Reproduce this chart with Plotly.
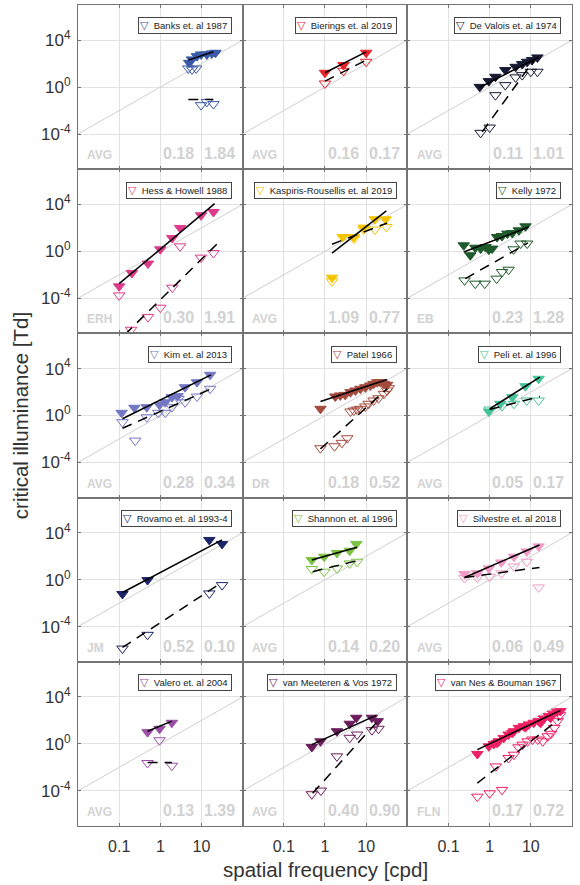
import numpy as np
import plotly.graph_objects as go
from plotly.subplots import make_subplots

# All values below are log10(spatial frequency, cpd) and log10(critical illuminance, Td),
# read off the reference chart.

banks_fill_lf = [0.70, 0.77, 0.89, 0.99, 1.13, 1.25, 1.34]
banks_fill_ly = [2.07, 2.36, 2.64, 2.79, 2.79, 2.87, 2.93]
banks_open_lf = [0.68, 0.77, 0.87, 0.99, 1.13, 1.29]
banks_open_ly = [1.59, 1.51, 1.59, -1.54, -1.26, -1.45]
banks_fit_lf = [0.68, 1.29]
banks_fit_ly = [2.30, 3.01]
banks_dfit_lf = [0.68, 1.29]
banks_dfit_ly = [-1.05, -1.05]

bierings_fill_lf = [0.0, 0.45, 1.0]
bierings_fill_ly = [1.22, 1.88, 2.93]
bierings_open_lf = [0.0, 0.45, 1.0]
bierings_open_ly = [0.31, 1.39, 2.16]
bierings_fit_lf = [0.0, 1.0]
bierings_fit_ly = [1.22, 3.01]
bierings_dfit_lf = [0.0, 1.0]
bierings_dfit_ly = [0.51, 2.30]

devalois_fill_lf = [-0.24, -0.02, 0.14, 0.38, 0.63, 0.79, 0.91, 1.03, 1.16]
devalois_fill_ly = [0.02, 0.51, 0.88, 1.45, 1.73, 1.96, 2.16, 2.30, 2.53]
devalois_open_lf = [-0.22, 0.0, 0.14, 0.38, 0.63, 0.79, 1.0, 1.16]
devalois_open_ly = [-3.9, -3.45, -0.69, 0.17, 0.83, 1.02, 1.31, 1.31]
devalois_fit_lf = [-0.24, 1.20]
devalois_fit_ly = [-0.03, 2.58]
devalois_dfit_lf = [-0.18, 1.11]
devalois_dfit_ly = [-3.82, 2.45]

hess_fill_lf = [-1.0, -0.69, -0.30, 0.0, 0.29, 0.48, 0.99, 1.29]
hess_fill_ly = [-2.99, -1.86, -1.05, 0.17, 1.13, 1.99, 3.07, 3.35]
hess_open_lf = [-1.0, -0.71, -0.30, 0.0, 0.29, 0.48, 0.99, 1.29]
hess_open_ly = [-3.76, -6.69, -5.61, -4.81, -3.1, 0.42, -0.54, -0.15]
hess_fit_lf = [-1.0, 1.32]
hess_fit_ly = [-2.76, 4.07]
hess_dfit_lf = [-0.86, 1.37]
hess_dfit_ly = [-7.1, 0.6]

kaspiris_fill_lf = [0.17, 0.43, 0.70, 0.94, 1.21, 1.47]
kaspiris_fill_ly = [-2.25, 1.22, 1.22, 2.02, 2.73, 2.73]
kaspiris_open_lf = [0.17, 0.70, 0.94, 1.21, 1.49]
kaspiris_open_ly = [-2.56, 1.08, 1.85, 1.85, 2.07]
kaspiris_fit_lf = [0.17, 1.49]
kaspiris_fit_ly = [-0.15, 3.44]
kaspiris_dfit_lf = [0.17, 1.51]
kaspiris_dfit_ly = [0.6, 2.41]

kelly_fill_lf = [-0.63, -0.47, -0.35, -0.22, -0.10, -0.02, 0.06, 0.18, 0.30, 0.43, 0.55, 0.71, 0.87]
kelly_fill_ly = [0.51, -0.34, 0.31, 0.23, 0.36, 0.14, 0.23, 1.22, 1.30, 1.51, 1.56, 1.79, 2.13]
kelly_open_lf = [-0.61, -0.35, -0.12, 0.17, 0.30, 0.46, 0.58, 0.75, 0.91]
kelly_open_ly = [-2.48, -2.76, -2.76, -2.33, -1.77, -1.57, 0.17, 0.66, 0.66]
kelly_fit_lf = [-0.63, 0.95]
kelly_fit_ly = [-0.06, 2.07]
kelly_dfit_lf = [-0.59, 0.93]
kelly_dfit_ly = [-2.33, 0.71]

kim_fill_lf = [-0.94, -0.63, -0.33, -0.02, 0.12, 0.28, 0.42, 0.60, 0.89, 1.21]
kim_fill_ly = [0.23, 0.66, 0.71, 0.91, 1.13, 1.56, 1.65, 2.41, 2.84, 3.47]
kim_open_lf = [-0.92, -0.61, -0.33, -0.05, 0.12, 0.28, 0.44, 0.60, 0.89, 1.21]
kim_open_ly = [-0.57, -2.14, -0.15, 0.23, 0.23, 0.71, 1.42, 1.13, 1.62, 2.28]
kim_fit_lf = [-0.92, 1.23]
kim_fit_ly = [-0.28, 3.47]
kim_dfit_lf = [-0.92, 1.20]
kim_dfit_ly = [-1.09, 2.22]

patel_fill_lf = [-0.11, 0.25, 0.37, 0.49, 0.62, 0.74, 0.86, 0.98, 1.10, 1.18, 1.27, 1.35, 1.43, 1.51]
patel_fill_ly = [0.57, 1.62, 1.71, 1.76, 1.99, 2.13, 2.28, 2.41, 2.56, 2.70, 2.84, 2.84, 2.70, 2.62]
patel_open_lf = [-0.11, 0.23, 0.41, 0.54, 0.62, 0.70, 0.78, 0.86, 0.98, 1.06, 1.18, 1.30, 1.43, 1.51, 1.55]
patel_open_ly = [-2.79, -2.62, -2.33, -1.94, 0.34, 0.42, 0.51, 0.57, 0.77, 1.0, 1.28, 1.47, 1.85, 2.13, 2.33]
patel_fit_lf = [-0.11, 1.51]
patel_fit_ly = [1.19, 3.07]
patel_dfit_lf = [-0.11, 1.51]
patel_dfit_ly = [-2.85, 2.28]

peli_fill_lf = [-0.02, 0.26, 0.55, 0.87, 1.19]
peli_fill_ly = [0.34, 1.0, 1.56, 2.5, 3.13]
peli_open_lf = [0.0, 0.30, 0.59, 0.90, 1.19]
peli_open_ly = [0.51, 0.79, 1.0, 1.28, 1.28]
peli_fit_lf = [0.0, 1.22]
peli_fit_ly = [0.57, 3.27]
peli_dfit_lf = [0.0, 1.22]
peli_dfit_ly = [0.51, 1.62]

rovamo_fill_lf = [-0.92, -0.31, 1.19, 1.50]
rovamo_fill_ly = [-1.22, -0.03, 3.39, 3.05]
rovamo_open_lf = [-0.92, -0.31, 1.19, 1.50]
rovamo_open_ly = [-5.87, -4.7, -1.17, -0.46]
rovamo_fit_lf = [-0.92, 1.50]
rovamo_fit_ly = [-1.09, 3.39]
rovamo_dfit_lf = [-0.92, 1.50]
rovamo_dfit_ly = [-5.78, -0.23]

shannon_fill_lf = [-0.32, -0.02, 0.29, 0.60, 0.76]
shannon_fill_ly = [1.68, 1.96, 2.28, 2.47, 3.05]
shannon_open_lf = [-0.32, -0.02, 0.29, 0.60, 0.78]
shannon_open_ly = [0.91, 0.68, 0.96, 1.39, 1.53]
shannon_fit_lf = [-0.32, 0.78]
shannon_fit_ly = [1.68, 2.76]
shannon_dfit_lf = [-0.30, 0.78]
shannon_dfit_ly = [0.68, 1.62]

silvestre_fill_lf = [-0.61, -0.30, -0.02, 0.28, 0.59, 0.90, 1.19]
silvestre_fill_ly = [0.48, 0.54, 0.96, 1.47, 1.96, 2.41, 2.84]
silvestre_open_lf = [-0.61, -0.30, 0.0, 0.29, 0.59, 0.90, 1.19]
silvestre_open_ly = [0.14, 0.19, 0.25, 0.54, 1.13, 1.53, -0.66]
silvestre_fit_lf = [-0.61, 1.21]
silvestre_fit_ly = [0.19, 2.96]
silvestre_dfit_lf = [-0.61, 1.21]
silvestre_dfit_ly = [0.19, 1.05]

valero_fill_lf = [-0.31, -0.02, 0.28]
valero_fill_ly = [1.0, 1.29, 1.80]
valero_open_lf = [-0.31, -0.02, 0.28]
valero_open_ly = [-1.63, 0.31, -1.86]
valero_fit_lf = [-0.31, 0.28]
valero_fit_ly = [1.08, 1.94]
valero_dfit_lf = [-0.31, 0.28]
valero_dfit_ly = [-1.58, -1.58]

meeteren_fill_lf = [-0.32, -0.11, 0.29, 0.60, 0.76, 1.14, 1.28]
meeteren_fill_ly = [-0.26, 0.22, 1.08, 1.72, 2.23, 2.23, 1.94]
meeteren_open_lf = [-0.32, -0.10, 0.29, 0.60, 0.78, 1.14, 1.30]
meeteren_open_ly = [-4.29, -3.98, -1.06, 0.52, 0.80, 1.17, 1.29]
meeteren_fit_lf = [-0.32, 1.24]
meeteren_fit_ly = [-0.06, 2.43]
meeteren_dfit_lf = [-0.30, 1.28]
meeteren_dfit_ly = [-4.21, 1.94]

vannes_fill_lf = [-0.30, -0.02, 0.10, 0.18, 0.22, 0.34, 0.46, 0.55, 0.59, 0.71, 0.83, 0.87,
                  0.95, 1.07, 1.19, 1.24, 1.32, 1.44, 1.48, 1.54, 1.64, 1.72]
vannes_fill_ly = [-0.86, -0.21, 0.0, 0.09, 0.22, 0.51, 0.80, 0.94, 1.08, 1.37, 1.51, 1.43,
                  1.66, 1.80, 1.94, 1.80, 2.17, 2.37, 2.23, 2.58, 2.75, 2.80]
vannes_open_lf = [-0.30, 0.0, 0.30, 0.15, 0.46, 0.59, 0.70, 0.80, 0.92, 1.04, 1.17, 1.29,
                  1.41, 1.49, 1.57, 1.65, 1.71]
vannes_open_ly = [-4.50, -4.21, -3.92, -1.92, -1.20, -0.92, -0.29, -0.06, 0.22, 0.37, 0.37, 0.22,
                  0.65, 0.86, 1.37, 1.94, 2.45]
vannes_fit_lf = [-0.30, 1.72]
vannes_fit_ly = [-0.49, 2.86]
vannes_dfit_lf = [-0.30, 1.68]
vannes_dfit_ly = [-3.35, 2.09]

study_names = ["Banks et. al 1987", "Bierings et. al 2019", "De Valois et. al 1974",
               "Hess &amp; Howell 1988", "Kaspiris-Rousellis et. al 2019", "Kelly 1972",
               "Kim et. al 2013", "Patel 1966", "Peli et. al 1996",
               "Rovamo et. al 1993-4", "Shannon et. al 1996", "Silvestre et. al 2018",
               "Valero et. al 2004", "van Meeteren &amp; Vos 1972", "van Nes &amp; Bouman 1967"]
study_colors = ["#3a5aa8", "#e8232a", "#161a33",
                "#dc3b8a", "#f5c400", "#1f5a2c",
                "#7478c4", "#a34a3c", "#45c49b",
                "#1c2568", "#7cc243", "#f09ac6",
                "#9b4ea6", "#6b1d5c", "#ef1f63"]
observer_labels = ["AVG", "AVG", "AVG", "ERH", "AVG", "EB", "AVG", "DR", "AVG",
                   "JM", "AVG", "AVG", "AVG", "AVG", "FLN"]
stat_a = ["0.18", "0.16", "0.11", "0.30", "1.09", "0.23", "0.28", "0.18", "0.05",
          "0.52", "0.14", "0.06", "0.13", "0.40", "0.17"]
stat_b = ["1.84", "0.17", "1.01", "1.91", "0.77", "1.28", "0.34", "0.52", "0.17",
          "0.10", "0.20", "0.49", "1.39", "0.90", "0.72"]

diag_f = [0.01, 100]
diag_td = [1e-4, 1e4]

x_tickvals = [0.1, 1, 10]
x_ticktext = ["0.1", "1", "10"]
y_tickvals = [1e-4, 1, 1e4]
y_ticktext = ["10<sup>-4</sup>", "10<sup>0</sup>", "10<sup>4</sup>"]

series = [
    (banks_fill_lf, banks_fill_ly, banks_open_lf, banks_open_ly, banks_fit_lf, banks_fit_ly, banks_dfit_lf, banks_dfit_ly),
    (bierings_fill_lf, bierings_fill_ly, bierings_open_lf, bierings_open_ly, bierings_fit_lf, bierings_fit_ly, bierings_dfit_lf, bierings_dfit_ly),
    (devalois_fill_lf, devalois_fill_ly, devalois_open_lf, devalois_open_ly, devalois_fit_lf, devalois_fit_ly, devalois_dfit_lf, devalois_dfit_ly),
    (hess_fill_lf, hess_fill_ly, hess_open_lf, hess_open_ly, hess_fit_lf, hess_fit_ly, hess_dfit_lf, hess_dfit_ly),
    (kaspiris_fill_lf, kaspiris_fill_ly, kaspiris_open_lf, kaspiris_open_ly, kaspiris_fit_lf, kaspiris_fit_ly, kaspiris_dfit_lf, kaspiris_dfit_ly),
    (kelly_fill_lf, kelly_fill_ly, kelly_open_lf, kelly_open_ly, kelly_fit_lf, kelly_fit_ly, kelly_dfit_lf, kelly_dfit_ly),
    (kim_fill_lf, kim_fill_ly, kim_open_lf, kim_open_ly, kim_fit_lf, kim_fit_ly, kim_dfit_lf, kim_dfit_ly),
    (patel_fill_lf, patel_fill_ly, patel_open_lf, patel_open_ly, patel_fit_lf, patel_fit_ly, patel_dfit_lf, patel_dfit_ly),
    (peli_fill_lf, peli_fill_ly, peli_open_lf, peli_open_ly, peli_fit_lf, peli_fit_ly, peli_dfit_lf, peli_dfit_ly),
    (rovamo_fill_lf, rovamo_fill_ly, rovamo_open_lf, rovamo_open_ly, rovamo_fit_lf, rovamo_fit_ly, rovamo_dfit_lf, rovamo_dfit_ly),
    (shannon_fill_lf, shannon_fill_ly, shannon_open_lf, shannon_open_ly, shannon_fit_lf, shannon_fit_ly, shannon_dfit_lf, shannon_dfit_ly),
    (silvestre_fill_lf, silvestre_fill_ly, silvestre_open_lf, silvestre_open_ly, silvestre_fit_lf, silvestre_fit_ly, silvestre_dfit_lf, silvestre_dfit_ly),
    (valero_fill_lf, valero_fill_ly, valero_open_lf, valero_open_ly, valero_fit_lf, valero_fit_ly, valero_dfit_lf, valero_dfit_ly),
    (meeteren_fill_lf, meeteren_fill_ly, meeteren_open_lf, meeteren_open_ly, meeteren_fit_lf, meeteren_fit_ly, meeteren_dfit_lf, meeteren_dfit_ly),
    (vannes_fill_lf, vannes_fill_ly, vannes_open_lf, vannes_open_ly, vannes_fit_lf, vannes_fit_ly, vannes_dfit_lf, vannes_dfit_ly),
]

FONT = "Liberation Sans, Arial, Helvetica, sans-serif"
TEXT = "#333333"
AXIS = "#747474"
GRID = "#e2e2e2"
STAT = "#d2d2d2"

def p10(a):
    return np.power(10.0, np.asarray(a, dtype=float))

fig = make_subplots(rows=5, cols=3, horizontal_spacing=0, vertical_spacing=0)

annotations = []
for k, (ffl, ffy, ofl, ofy, sfl, sfy, dfl, dfy) in enumerate(series):
    r, c = k // 3 + 1, k % 3 + 1
    col = study_colors[k]
    fig.add_trace(go.Scatter(x=diag_f, y=diag_td, mode="lines",
                             line=dict(color="#cfcfcf", width=1), hoverinfo="skip"), row=r, col=c)
    fig.add_trace(go.Scatter(x=p10(ffl), y=p10(ffy), mode="markers",
                             marker=dict(symbol="triangle-down", size=10, color=col,
                                         line=dict(color=col, width=1))), row=r, col=c)
    fig.add_trace(go.Scatter(x=p10(ofl), y=p10(ofy), mode="markers",
                             marker=dict(symbol="triangle-down-open", size=10, color=col,
                                         line=dict(color=col, width=1))), row=r, col=c)
    fig.add_trace(go.Scatter(x=p10(sfl), y=p10(sfy), mode="lines",
                             line=dict(color="black", width=1.5)), row=r, col=c)
    fig.add_trace(go.Scatter(x=p10(dfl), y=p10(dfy), mode="lines",
                             line=dict(color="black", width=1.5, dash="10px,7px")), row=r, col=c)

    xref = "x domain" if k == 0 else f"x{k+1} domain"
    yref = "y domain" if k == 0 else f"y{k+1} domain"
    annotations.append(dict(
        xref=xref, yref=yref, x=0.935, y=0.925, xanchor="right", yanchor="top",
        text=f"<span style='color:{col};font-size:11px;font-family:DejaVu Sans'>\u25BD</span>\u00a0\u00a0{study_names[k]}\u00a0",
        showarrow=False, font=dict(family=FONT, size=9.5, color="#222222"),
        bgcolor="white", bordercolor="#444444", borderwidth=1, borderpad=1))
    annotations.append(dict(
        xref=xref, yref=yref, x=0.045, y=0.085, xanchor="left", yanchor="middle",
        text=f"<b>{observer_labels[k]}</b>", showarrow=False,
        font=dict(family=FONT, size=12, color=STAT)))
    annotations.append(dict(
        xref=xref, yref=yref, x=0.717, y=0.095, xanchor="right", yanchor="middle",
        text=f"<b>{stat_a[k]}</b>", showarrow=False,
        font=dict(family=FONT, size=16, color=STAT)))
    annotations.append(dict(
        xref=xref, yref=yref, x=0.965, y=0.095, xanchor="right", yanchor="middle",
        text=f"<b>{stat_b[k]}</b>", showarrow=False,
        font=dict(family=FONT, size=16, color=STAT)))

annotations.append(dict(xref="paper", yref="paper", x=0.5, y=-0.0524,
                        xanchor="center", yanchor="middle", showarrow=False,
                        text="spatial frequency [cpd]",
                        font=dict(family=FONT, size=20.5, color=TEXT)))
annotations.append(dict(xref="paper", yref="paper", x=-0.116, y=0.5,
                        xanchor="center", yanchor="middle", showarrow=False, textangle=-90,
                        text="critical illuminance [Td]",
                        font=dict(family=FONT, size=20.5, color=TEXT)))

for k in range(15):
    r, c = k // 3 + 1, k % 3 + 1
    fig.update_xaxes(type="log", range=[-2, 2], tickvals=x_tickvals, ticktext=x_ticktext,
                     showticklabels=(r == 5), showgrid=True, gridcolor=GRID, gridwidth=1,
                     zeroline=False, showline=True, linecolor=AXIS, linewidth=1,
                     mirror="allticks", ticks="inside", ticklen=3, tickcolor=AXIS,
                     ticklabelstandoff=6,
                     tickfont=dict(family=FONT, size=16, color=TEXT), row=r, col=c)
    fig.update_yaxes(type="log", range=[-7, 7], tickvals=y_tickvals, ticktext=y_ticktext,
                     showticklabels=(c == 1), showgrid=True, gridcolor=GRID, gridwidth=1,
                     zeroline=False, showline=True, linecolor=AXIS, linewidth=1,
                     mirror="allticks", ticks="inside", ticklen=3, tickcolor=AXIS,
                     ticklabelstandoff=3,
                     tickfont=dict(family=FONT, size=17, color=TEXT), row=r, col=c)

fig.update_layout(width=580, height=885, margin=dict(l=78, r=8, t=5, b=59),
                  paper_bgcolor="white", plot_bgcolor="white", showlegend=False,
                  annotations=annotations, font=dict(family=FONT, color=TEXT))

fig.write_html("out.html")
